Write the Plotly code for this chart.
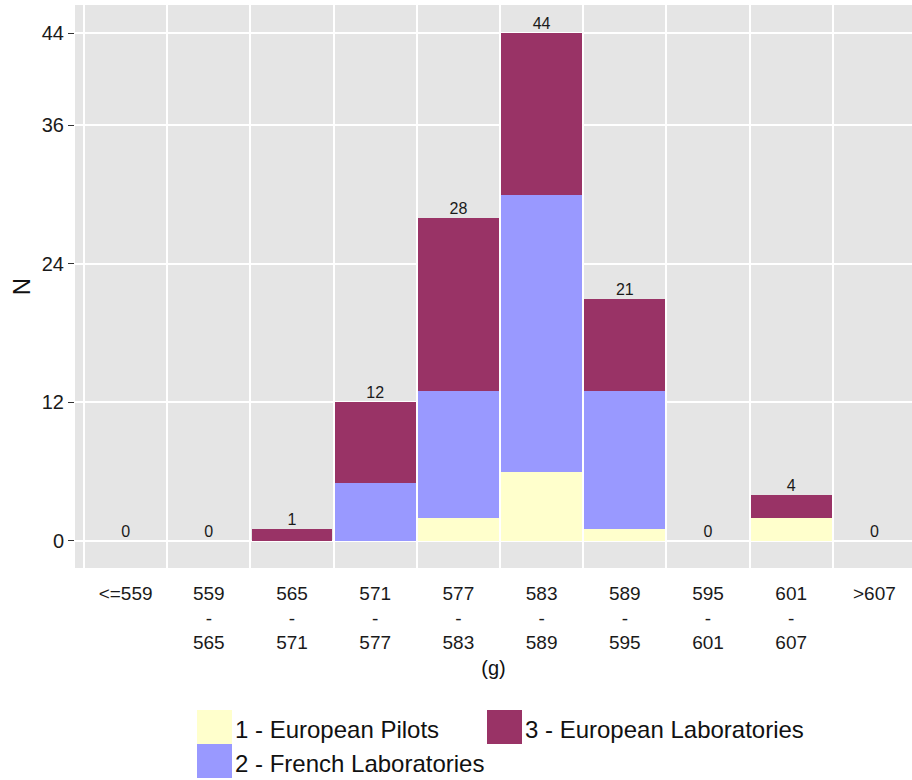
import plotly.graph_objects as go

categories = ["<=559", "559<br>-<br>565", "565<br>-<br>571", "571<br>-<br>577", "577<br>-<br>583",
              "583<br>-<br>589", "589<br>-<br>595", "595<br>-<br>601", "601<br>-<br>607", ">607"]
pilots = [0, 0, 0, 0, 2, 6, 1, 0, 2, 0]
french = [0, 0, 0, 5, 11, 24, 12, 0, 0, 0]
euro_labs = [0, 0, 1, 7, 15, 14, 8, 0, 2, 0]
series_names = ["1 - European Pilots", "2 - French Laboratories", "3 - European Laboratories"]
series_colors = ["#FFFFCC", "#9999FF", "#993366"]
y_ticks = [0, 12, 24, 36, 44]

totals = [a + b + c for a, b, c in zip(pilots, french, euro_labs)]
xpos = list(range(len(categories)))

W, H = 912, 780
L, R, T, B = 75, 0, 5, 212
pw, ph = W - L - R, H - T - B

fig = go.Figure()
for name, vals, col in zip(series_names, [pilots, french, euro_labs], series_colors):
    fig.add_trace(go.Bar(x=xpos, y=vals, name=name, marker=dict(color=col, line=dict(width=0)),
                         width=0.97, showlegend=False))

fig.add_trace(go.Scatter(x=xpos, y=totals, mode="text", text=[str(t) for t in totals],
                         textposition="top center", textfont=dict(size=16, color="#1a1a1a"),
                         showlegend=False, cliponaxis=False))

fig.update_layout(
    width=W, height=H, barmode="stack", bargap=0,
    margin=dict(l=L, r=R, t=T, b=B),
    paper_bgcolor="white", plot_bgcolor="#E5E5E5",
    font=dict(family="Liberation Sans, Arial, sans-serif", color="#333333"),
)
fig.update_xaxes(
    range=[-0.608, 9.452], tickmode="array", tickvals=xpos, ticktext=categories,
    showgrid=False, zeroline=False, ticks="outside", ticklen=8, tickcolor="rgba(0,0,0,0)",
    tickfont=dict(size=19, color="#1a1a1a"),
    minor=dict(tickmode="array", tickvals=[i - 0.5 for i in range(len(categories) + 1)],
               showgrid=True, gridcolor="white", gridwidth=1.6, ticks=""),
    title=dict(text="(g)", font=dict(size=20, color="#111111"), standoff=8),
)
fig.update_yaxes(
    range=[-2.34, 46.43], tickmode="array", tickvals=y_ticks, showgrid=True, gridcolor="white",
    gridwidth=1.6, zeroline=False, ticks="outside", ticklen=6, tickcolor="#333333",
    tickfont=dict(size=20, color="#1a1a1a"),
    title=dict(text="N", font=dict(size=24, color="#111111"), standoff=4),
)


def px_x(px):
    return (px - L) / pw


def px_y(py):
    return (H - B - py) / ph


legend_items = [(197, 710, 0), (197, 744, 1), (487, 710, 2)]
for lx, ly, idx in legend_items:
    fig.add_shape(type="rect", xref="paper", yref="paper",
                  x0=px_x(lx), x1=px_x(lx + 35), y0=px_y(ly + 34), y1=px_y(ly),
                  fillcolor=series_colors[idx], line=dict(width=0))
    fig.add_annotation(xref="paper", yref="paper", x=px_x(lx + 36), y=px_y(ly + 19),
                       text=series_names[idx], showarrow=False, xanchor="left", yanchor="middle",
                       font=dict(size=24, color="#111111"))

fig.write_html("out.html", config={"displayModeBar": False},
               post_script="document.body.style.margin='0';")
